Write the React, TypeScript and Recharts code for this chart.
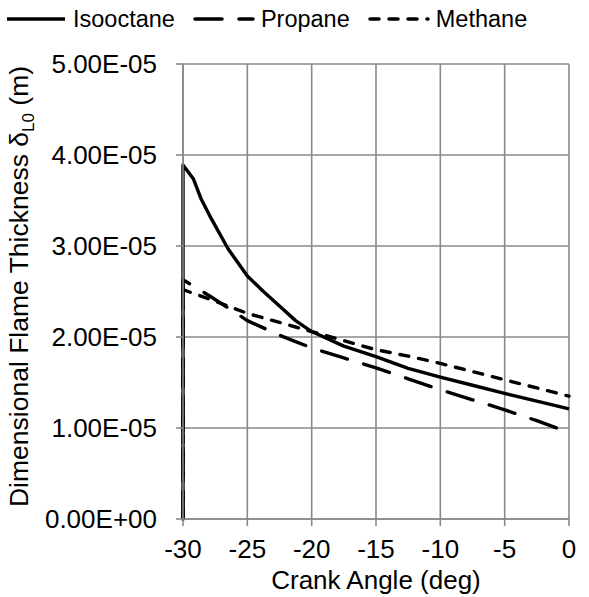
import { LineChart, Line, XAxis, YAxis, CartesianGrid, Legend } from "recharts";

// readings (y in metres)
const crankAngle = [-30, -30, -29.2, -28.6, -27.8, -26.5, -25, -23.75, -22.5, -21.25, -20, -17.5, -15, -12.5, -10, -7.5, -5, -2.5, 0];
const isooctane = [0, 3.89e-5, 3.74e-5, 3.52e-5, 3.3e-5, 2.97e-5, 2.67e-5, 2.5e-5, 2.34e-5, 2.18e-5, 2.06e-5, 1.9e-5, 1.785e-5, 1.655e-5, 1.56e-5, 1.47e-5, 1.38e-5, 1.295e-5, 1.21e-5];
const propane = [0, 2.63e-5, 2.56e-5, 2.51e-5, 2.44e-5, 2.32e-5, 2.18e-5, 2.1e-5, 2.02e-5, 1.95e-5, 1.88e-5, 1.77e-5, 1.66e-5, 1.54e-5, 1.42e-5, 1.31e-5, 1.2e-5, 1.08e-5, 0.95e-5];
const methane = [0, 2.52e-5, 2.48e-5, 2.45e-5, 2.41e-5, 2.34e-5, 2.26e-5, 2.21e-5, 2.16e-5, 2.11e-5, 2.06e-5, 1.96e-5, 1.86e-5, 1.79e-5, 1.71e-5, 1.62e-5, 1.53e-5, 1.44e-5, 1.35e-5];

const xTicks = [-30, -25, -20, -15, -10, -5, 0];
const yTicks = [0, 1e-5, 2e-5, 3e-5, 4e-5, 5e-5];

const FONT = "'Liberation Sans', Arial, sans-serif";
const GRID = "#898989";

const series = [
  { key: "isooctane", name: "Isooctane", dash: undefined as string | undefined },
  { key: "propane", name: "Propane", dash: "27 17" },
  { key: "methane", name: "Methane", dash: "9 10" },
];

const rows = crankAngle.map((angle, i) => ({
  angle,
  isooctane: isooctane[i],
  propane: propane[i],
  methane: methane[i],
}));

function sci(v: number) {
  const [m, e] = v.toExponential(2).split("e");
  const n = parseInt(e, 10);
  return `${m}E${n < 0 ? "-" : "+"}${String(Math.abs(n)).padStart(2, "0")}`;
}

function LegendRow() {
  return (
    <div style={{ display: "flex", alignItems: "center", height: 38, paddingLeft: 5, fontFamily: FONT, fontSize: 23.5, color: "#000" }}>
      {series.map((s) => (
        <div key={s.key} style={{ display: "flex", alignItems: "center", marginRight: 18 }}>
          <svg width={62} height={10} style={{ marginRight: 6 }}>
            <line x1={2} y1={5} x2={60} y2={5} stroke="#000" strokeWidth={3.5} strokeDasharray={s.dash} strokeLinecap={s.dash ? "round" : "butt"} />
          </svg>
          <span>{s.name}</span>
        </div>
      ))}
    </div>
  );
}

function YTitle({ viewBox }: { viewBox?: { x: number; y: number; width: number; height: number } }) {
  if (!viewBox) return null;
  const cx = 28;
  const cy = viewBox.y + viewBox.height / 2 - 5;
  return (
    <text x={cx} y={cy} transform={`rotate(-90, ${cx}, ${cy})`} textAnchor="middle" fontFamily={FONT} fontSize={26.5} fill="#000">
      Dimensional Flame Thickness δ
      <tspan fontSize={17} dy={6}>L0</tspan>
      <tspan dy={-6}> (m)</tspan>
    </text>
  );
}

function XTitle({ viewBox }: { viewBox?: { x: number; y: number; width: number; height: number } }) {
  if (!viewBox) return null;
  return (
    <text x={viewBox.x + viewBox.width / 2} y={589} textAnchor="middle" fontFamily={FONT} fontSize={26} fill="#000">
      Crank Angle (deg)
    </text>
  );
}

export default function App() {
  return (
    <div style={{ position: "absolute", left: 0, top: 0, background: "#fff" }}>
      <LineChart width={589} height={597} data={rows} margin={{ top: 26, right: 20, bottom: 0, left: 0 }}>
        <CartesianGrid stroke={GRID} strokeWidth={1.6} />
        <XAxis
          type="number"
          dataKey="angle"
          domain={[-30, 0]}
          ticks={xTicks}
          height={78}
          stroke={GRID}
          strokeWidth={1.6}
          tickSize={7}
          tickMargin={14}
          tick={{ fontSize: 26, fill: "#000", fontFamily: FONT }}
          label={<XTitle />}
        />
        <YAxis
          type="number"
          domain={[0, 5e-5]}
          ticks={yTicks}
          width={183}
          stroke={GRID}
          strokeWidth={1.6}
          tickSize={7}
          tickMargin={19}
          tickFormatter={sci}
          tick={{ fontSize: 26, fill: "#000", fontFamily: FONT }}
          label={<YTitle />}
        />
        <Legend verticalAlign="top" align="left" content={<LegendRow />} wrapperStyle={{ top: 0, left: 0 }} />
        {series.map((s) => (
          <Line
            key={s.key}
            type="linear"
            dataKey={s.key}
            name={s.name}
            stroke="#000"
            strokeWidth={3.4}
            strokeDasharray={s.dash}
            strokeLinecap={s.dash ? "round" : "butt"}
            strokeLinejoin="round"
            dot={false}
            activeDot={false}
            isAnimationActive={false}
          />
        ))}
      </LineChart>
    </div>
  );
}
